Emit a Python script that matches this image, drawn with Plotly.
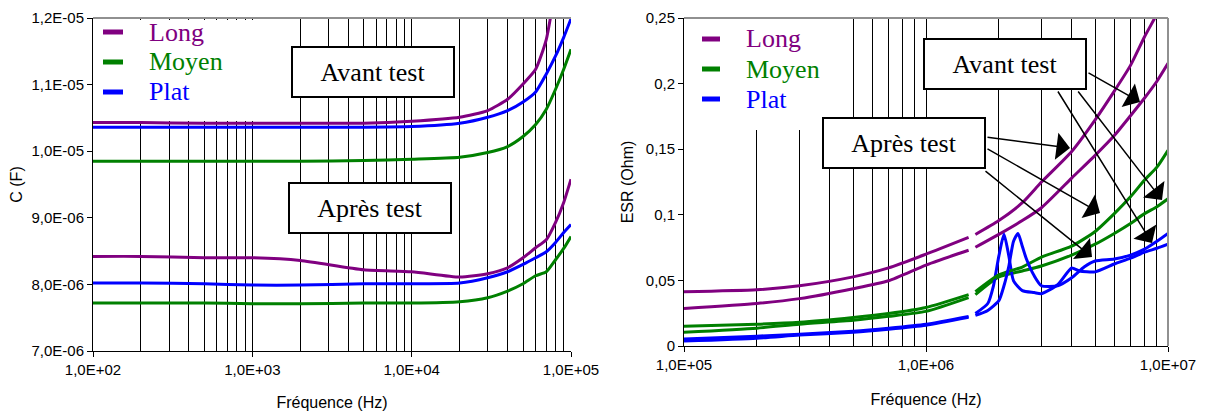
import plotly.graph_objects as go

# ---- Left chart: capacitance vs frequency ----
freq_c = [100, 200, 500, 1000, 2000, 5000, 1e4, 2e4, 3e4, 4e4, 5e4, 6e4, 7e4, 8e4, 9e4, 1e5]

# values in microfarads
c_long_avant = [10.43, 10.43, 10.42, 10.42, 10.42, 10.42, 10.45, 10.51, 10.61, 10.78, 11.01, 11.23, 11.68, 12.44, 12.9, 13.4]
c_moyen_avant = [9.85, 9.85, 9.85, 9.85, 9.85, 9.86, 9.88, 9.91, 9.98, 10.07, 10.22, 10.40, 10.63, 10.93, 11.23, 11.53]
c_plat_avant = [10.36, 10.36, 10.36, 10.36, 10.36, 10.36, 10.37, 10.42, 10.51, 10.61, 10.74, 10.89, 11.16, 11.43, 11.71, 11.99]

c_long_apres = [8.42, 8.42, 8.40, 8.40, 8.36, 8.22, 8.19, 8.11, 8.16, 8.25, 8.40, 8.55, 8.67, 8.93, 9.23, 9.58]
c_moyen_apres = [7.72, 7.72, 7.72, 7.71, 7.71, 7.72, 7.72, 7.74, 7.80, 7.90, 8.01, 8.13, 8.19, 8.37, 8.54, 8.72]
c_plat_apres = [8.02, 8.02, 8.01, 7.99, 7.99, 8.01, 8.01, 8.02, 8.10, 8.19, 8.30, 8.40, 8.49, 8.63, 8.78, 8.90]

c_tickvals = [7e-6, 8e-6, 9e-6, 1e-5, 1.1e-5, 1.2e-5]
c_ticktext = ["7,0E-06", "8,0E-06", "9,0E-06", "1,0E-05", "1,1E-05", "1,2E-05"]
fc_tickvals = [1e2, 1e3, 1e4, 1e5]
fc_ticktext = ["1,0E+02", "1,0E+03", "1,0E+04", "1,0E+05"]

# ---- Right chart: ESR vs frequency ----
freq_esr = [1e5, 2e5, 3e5, 5e5, 7e5, 1e6, 1.5e6, 1.55e6, 1.6e6, 2e6, 2.5e6, 3e6, 4e6, 5e6, 6e6, 7e6, 8e6, 9e6, 1e7]

esr_long_avant = [0.0286, 0.0324, 0.0361, 0.0437, 0.0497, 0.0617, 0.073, None, 0.0753, 0.0851, 0.0956, 0.1054, 0.128, 0.1453, 0.1604, 0.1755, 0.189, 0.2018, 0.2154]
esr_long_apres = [0.0414, 0.0429, 0.0459, 0.0527, 0.0595, 0.070, 0.0828, None, 0.085, 0.0956, 0.1092, 0.125, 0.1483, 0.1724, 0.1943, 0.2139, 0.2357, 0.253, 0.27]
esr_moyen_avant = [0.0105, 0.0136, 0.0166, 0.0196, 0.0226, 0.0264, 0.0369, None, 0.0392, 0.0527, 0.0572, 0.061, 0.0693, 0.0776, 0.0858, 0.0934, 0.1009, 0.1062, 0.1122]
esr_moyen_apres = [0.0151, 0.0166, 0.0181, 0.0218, 0.0248, 0.0294, 0.0392, None, 0.0414, 0.0542, 0.0602, 0.0678, 0.0761, 0.0873, 0.1009, 0.1137, 0.1265, 0.1363, 0.1491]

freq_plat_avant = [1e5, 2e5, 3e5, 5e5, 7e5, 1e6, 1.5e6, 1.55e6, 1.6e6, 1.8e6, 1.9e6, 2.0e6, 2.1e6, 2.2e6, 2.3e6, 2.5e6, 2.8e6, 3e6, 3.5e6, 4e6, 4.3e6, 5e6, 6e6, 7e6, 8e6, 9e6, 1e7]
esr_plat_avant = [0.0053, 0.0075, 0.009, 0.0113, 0.0136, 0.0166, 0.0226, None, 0.0248, 0.0324, 0.0459, 0.0685, 0.0851, 0.0685, 0.0497, 0.0422, 0.0407, 0.0399, 0.0467, 0.0595, 0.0572, 0.0565, 0.0625, 0.067, 0.0715, 0.0745, 0.0776]
freq_plat_apres = [1e5, 2e5, 3e5, 5e5, 7e5, 1e6, 1.5e6, 1.55e6, 1.6e6, 1.8e6, 2.0e6, 2.1e6, 2.2e6, 2.3e6, 2.4e6, 2.5e6, 2.6e6, 2.8e6, 3e6, 3.5e6, 4e6, 4.5e6, 5e6, 6e6, 7e6, 8e6, 9e6, 1e7]
esr_plat_apres = [0.0038, 0.006, 0.0083, 0.0105, 0.0128, 0.0158, 0.0218, None, 0.0233, 0.0271, 0.0346, 0.0459, 0.061, 0.0798, 0.0858, 0.076, 0.0663, 0.0535, 0.0459, 0.0459, 0.052, 0.0602, 0.0648, 0.0663, 0.0693, 0.0738, 0.0798, 0.0858]

esr_tickvals = [0, 0.05, 0.1, 0.15, 0.2, 0.25]
esr_ticktext = ["0", "0,05", "0,1", "0,15", "0,2", "0,25"]
fe_tickvals = [1e5, 1e6, 1e7]
fe_ticktext = ["1,0E+05", "1,0E+06", "1,0E+07"]

legend_labels = ["Long", "Moyen", "Plat"]

PURPLE = "#800080"
GREEN = "#008000"
BLUE = "#0000FF"
COLORS = [PURPLE, GREEN, BLUE]
W, H = 1206, 416
OFF = 8  # the page body margin shifts the figure by 8px
SERIF = "Times New Roman, Liberation Serif, serif"
SANS = "Arial, Liberation Sans, sans-serif"

# right plot area in picture pixels
R_LEFT, R_RIGHT, R_TOP, R_BOTTOM = 684, 1168, 18, 346


def px(x):
    return (x - OFF) / W


def py(y):
    return 1 - (y - OFF) / H


def minor_vals(lo, hi):
    vals = []
    d = lo
    while d < hi:
        vals += [k * d for k in range(2, 10)]
        d *= 10
    return vals


fig = go.Figure()

# left chart traces
uF = 1e-6
left_series = [
    ("Long avant", PURPLE, c_long_avant),
    ("Moyen avant", GREEN, c_moyen_avant),
    ("Plat avant", BLUE, c_plat_avant),
    ("Long après", PURPLE, c_long_apres),
    ("Moyen après", GREEN, c_moyen_apres),
    ("Plat après", BLUE, c_plat_apres),
]
for name, col, vals in left_series:
    fig.add_trace(go.Scatter(
        x=freq_c, y=[v * uF for v in vals], mode="lines",
        line=dict(color=col, width=3, shape="spline", smoothing=0.6), name=name,
        xaxis="x", yaxis="y"))

# right chart traces
right_series = [
    ("Long avant", PURPLE, freq_esr, esr_long_avant),
    ("Moyen avant", GREEN, freq_esr, esr_moyen_avant),
    ("Plat avant", BLUE, freq_plat_avant, esr_plat_avant),
    ("Long après", PURPLE, freq_esr, esr_long_apres),
    ("Moyen après", GREEN, freq_esr, esr_moyen_apres),
    ("Plat après", BLUE, freq_plat_apres, esr_plat_apres),
]
for name, col, xs, vals in right_series:
    fig.add_trace(go.Scatter(
        x=xs, y=vals, mode="lines", connectgaps=False,
        line=dict(color=col, width=3, shape="spline", smoothing=0.6), name=name,
        xaxis="x2", yaxis="y2"))

tick_font = dict(family=SANS, size=15, color="black")
title_font = dict(family=SANS, size=16, color="black")

common_x = dict(
    type="log", showline=True, linecolor="black", linewidth=1,
    ticks="outside", ticklen=5, tickcolor="black",
    showgrid=True, gridcolor="black", gridwidth=1.3,
    tickfont=tick_font, zeroline=False, automargin=False,
    ticklabeloverflow="allow",
)
common_y = dict(
    showline=True, linecolor="black", linewidth=1,
    ticks="outside", ticklen=5, tickcolor="black",
    showgrid=False, zeroline=False, tickfont=tick_font, automargin=False,
    ticklabeloverflow="allow",
)

fig.update_layout(
    width=W, height=H,
    margin=dict(l=0, r=0, t=0, b=0, pad=0, autoexpand=False),
    paper_bgcolor="white", plot_bgcolor="white",
    font=dict(family=SANS, size=14, color="black"),
    showlegend=False,
    xaxis=dict(common_x, domain=[px(93), px(571)], range=[2, 5], anchor="y",
               tickvals=fc_tickvals, ticktext=fc_ticktext,
               minor=dict(tickvals=minor_vals(1e2, 1e5), showgrid=True,
                          gridcolor="black", gridwidth=1, ticks=""),
               title=dict(text="Fréquence (Hz)", font=title_font, standoff=19)),
    yaxis=dict(common_y, domain=[py(351), py(18)], range=[7e-6, 1.2e-5], anchor="x",
               tickvals=c_tickvals, ticktext=c_ticktext,
               title=dict(text="C (F)", font=title_font, standoff=6)),
    xaxis2=dict(common_x, domain=[px(R_LEFT), px(R_RIGHT)], range=[5, 7], anchor="y2",
                tickvals=fe_tickvals, ticktext=fe_ticktext,
                minor=dict(tickvals=minor_vals(1e5, 1e7), showgrid=True,
                           gridcolor="black", gridwidth=1, ticks=""),
                title=dict(text="Fréquence (Hz)", font=title_font, standoff=21)),
    yaxis2=dict(common_y, domain=[py(R_BOTTOM), py(R_TOP)], range=[0, 0.25], anchor="x2",
                tickvals=esr_tickvals, ticktext=esr_ticktext,
                title=dict(text="ESR (Ohm)", font=title_font, standoff=8)),
)

# grey frame on top / right of the plot areas
for xr, yr in (("x domain", "y domain"), ("x2 domain", "y2 domain")):
    fig.add_shape(type="line", xref=xr, yref=yr, x0=0, x1=1, y0=1, y1=1,
                  line=dict(color="#909090", width=2))
fig.add_shape(type="line", xref="x2 domain", yref="y2 domain", x0=1, x1=1, y0=0, y1=1,
              line=dict(color="#909090", width=2))

# legends drawn like the Excel ones: white box, short thick line, coloured serif label
legend_boxes = [
    # box (x0, x1, y_top, y_bottom px), line x0/x1 px, text x px, row y px
    ((95, 253, 20, 121), (103, 123), 147, [32, 62, 92]),
    ((725, 847, 19, 130), (702, 720), 744, [39, 69, 99]),
]
for box, line_x, text_x, rows in legend_boxes:
    fig.add_shape(type="rect", xref="paper", yref="paper",
                  x0=px(box[0]), x1=px(box[1]), y0=py(box[3]), y1=py(box[2]),
                  fillcolor="white", line=dict(width=0))
    for label, col, ry in zip(legend_labels, COLORS, rows):
        fig.add_shape(type="line", xref="paper", yref="paper",
                      x0=px(line_x[0]), x1=px(line_x[1]), y0=py(ry), y1=py(ry),
                      line=dict(color=col, width=5))
        fig.add_annotation(x=px(text_x), y=py(ry), xref="paper", yref="paper",
                           text=label, showarrow=False, xanchor="left", yanchor="middle",
                           font=dict(family=SERIF, size=26, color=col))


def pix_to_right(x, y):
    # helper for placing arrows on the right chart, from picture pixels
    lx = 5 + 2 * (x - R_LEFT) / (R_RIGHT - R_LEFT)
    ly = 0.25 * (R_BOTTOM - y) / (R_BOTTOM - R_TOP)
    return lx, ly


arrows = [
    ((1087, 72), (1140, 102)),
    ((1057, 90), (1152, 243)),
    ((1077, 90), (1162, 200)),
    ((986, 137), (1070, 148)),
    ((986, 148), (1100, 213)),
    ((984, 170), (1092, 257)),
]
for tail, tip in arrows:
    ax, ay = pix_to_right(*tail)
    x, y = pix_to_right(*tip)
    fig.add_annotation(x=x, y=y, ax=ax, ay=ay, xref="x2", yref="y2",
                       axref="x2", ayref="y2", text="", showarrow=True,
                       arrowhead=1, arrowsize=3, arrowwidth=1.5,
                       arrowcolor="black", standoff=0)

box_font = dict(family=SERIF, size=26, color="black")
boxes = [
    ("Avant test", 373, 72),
    ("Après test", 370, 208),
    ("Avant test", 1005, 64),
    ("Après test", 904, 143),
]
for txt, cx, cy in boxes:
    fig.add_annotation(x=px(cx), y=py(cy), xref="paper", yref="paper",
                       text=txt, showarrow=False, font=box_font,
                       width=158, height=46, borderpad=1, borderwidth=2,
                       bordercolor="black", bgcolor="white",
                       xanchor="center", yanchor="middle")

fig.write_html("out.html")
